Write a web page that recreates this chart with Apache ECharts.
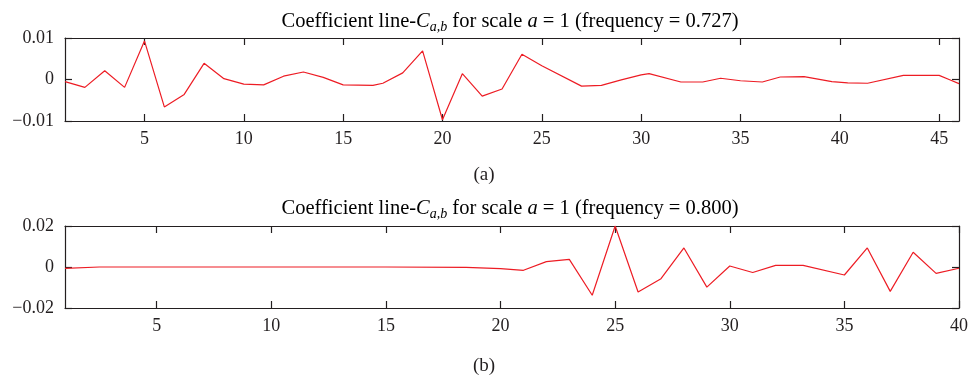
<!DOCTYPE html>
<html>
<head>
<meta charset="utf-8">
<script src="https://cdn.jsdelivr.net/npm/echarts@6/dist/echarts.min.js"></script>
<style>
  html, body { margin: 0; padding: 0; background: #fff; }
  #chart { width: 972px; height: 379px; }
</style>
</head>
<body>
<div id="chart"></div>
<script>
// Wavelet coefficient line, frequency 0.727 (panel a)
const topX = [1, 2, 3, 4, 5, 6, 7, 8, 9, 10, 11, 12, 13, 14, 15, 16.5, 17, 18, 19, 20,
  21, 22, 23, 24, 25, 27, 28, 29, 30, 30.4, 32, 33.1, 34, 35, 36.1, 37, 38.2, 39.6,
  40.4, 41.4, 43.2, 45, 45.5, 46];
const topY = [-0.0005, -0.0019, 0.0021, -0.0019, 0.0093, -0.0066, -0.0036, 0.0039, 0.0002, -0.0011,
  -0.0013, 0.0008, 0.0018, 0.0005, -0.0013, -0.0014, -0.0009, 0.0016, 0.0069, -0.0097,
  0.0014, -0.0040, -0.0023, 0.0061, 0.0033, -0.0016, -0.0014, -0.0001, 0.0011, 0.0014,
  -0.0006, -0.0006, 0.0003, -0.0003, -0.0006, 0.0006, 0.0007, -0.0005,
  -0.0008, -0.0009, 0.0010, 0.0010, 0.0000, -0.0010];

// Wavelet coefficient line, frequency 0.800 (panel b)
const bottomX = [1, 2.5, 5, 10, 15, 18.5, 20, 21, 22, 23, 24, 25, 26, 27, 28, 29, 30,
  31, 32, 33.2, 35, 36, 37, 38, 39, 40];
const bottomY = [-0.0007, 0, 0, 0, 0, -0.0002, -0.0008, -0.0016, 0.0026, 0.0037, -0.0138, 0.0200,
  -0.0122, -0.0057, 0.0093, -0.0098, 0.0005, -0.0027, 0.0008, 0.0008, -0.0039, 0.0093,
  -0.0119, 0.0072, -0.0031, -0.0006];

// Tick positions and ranges
const topXTicks = [5, 10, 15, 20, 25, 30, 35, 40, 45];
const bottomXTicks = [5, 10, 15, 20, 25, 30, 35, 40];
const topXRange = [1, 46];
const bottomXRange = [1, 40];
const topYRange = [-0.01, 0.01];
const bottomYRange = [-0.02, 0.02];

const panelTitles = ['0.727', '0.800'];
const panelTags = ['(a)', '(b)'];

const FONT = '"Liberation Serif", "DejaVu Serif", serif';
const INK = '#231f20';
const RED = '#ed1c24';

function pairs(xs, ys) { return xs.map((x, i) => [x, ys[i]]); }
function yFmt(v) {
  if (Math.abs(v) < 1e-12) return '0';
  const s = String(+Math.abs(v).toFixed(4));
  return (v < 0 ? '\u2212' : '') + s;
}

const lineStyle = { color: INK, width: 1.2 };

function xAxes(gridIndex, range, ticks) {
  const base = {
    type: 'value', gridIndex, min: range[0], max: range[1],
    splitLine: { show: false },
    axisLine: { show: true, onZero: false, lineStyle },
    axisTick: { show: true, inside: true, length: 7, customValues: ticks, lineStyle }
  };
  return [
    Object.assign({}, base, {
      position: 'bottom',
      axisLabel: { show: true, customValues: ticks, margin: 9, color: INK,
        fontFamily: FONT, fontSize: 18 }
    }),
    Object.assign({}, base, { position: 'top', axisLabel: { show: false } })
  ];
}

function yAxes(gridIndex, range) {
  const base = {
    type: 'value', gridIndex, min: range[0], max: range[1], interval: range[1],
    splitLine: { show: false },
    axisLine: { show: true, onZero: false, lineStyle },
    axisTick: { show: true, inside: true, length: 7, lineStyle }
  };
  return [
    Object.assign({}, base, {
      position: 'left',
      axisLabel: { show: true, margin: 11, color: INK, fontFamily: FONT, fontSize: 18,
        formatter: yFmt }
    }),
    Object.assign({}, base, { position: 'right', axisLabel: { show: false } })
  ];
}

function titleText(freq) {
  return '{n|Coefficient line-}{i|C}{s|a,b}{n| for scale }{i|a}{n| = 1 (frequency = ' + freq + ')}';
}
const titleRich = {
  n: { fontFamily: FONT, fontSize: 20.5, color: INK, lineHeight: 23 },
  i: { fontFamily: FONT, fontSize: 20.5, color: INK, fontStyle: 'italic', lineHeight: 23 },
  s: { fontFamily: FONT, fontSize: 14, color: INK, fontStyle: 'italic', lineHeight: 14,
       padding: [11, 0, 0, 0] }
};

const chart = echarts.init(document.getElementById('chart'), null, { renderer: 'canvas' });
chart.setOption({
  animation: false,
  backgroundColor: '#fff',
  grid: [
    { left: 65, top: 38, width: 894, height: 83 },
    { left: 65, top: 226, width: 894, height: 82 }
  ],
  xAxis: [].concat(xAxes(0, topXRange, topXTicks), xAxes(1, bottomXRange, bottomXTicks)),
  yAxis: [].concat(yAxes(0, topYRange), yAxes(1, bottomYRange)),
  series: [
    { type: 'line', xAxisIndex: 0, yAxisIndex: 0, data: pairs(topX, topY),
      showSymbol: false, lineStyle: { color: RED, width: 1.2 }, clip: true },
    { type: 'line', xAxisIndex: 2, yAxisIndex: 2, data: pairs(bottomX, bottomY),
      showSymbol: false, lineStyle: { color: RED, width: 1.2 }, clip: true }
  ],
  graphic: [
    { type: 'text', x: 510, y: 22, style: { text: titleText(panelTitles[0]), rich: titleRich,
      align: 'center', verticalAlign: 'middle' } },
    { type: 'text', x: 510, y: 209, style: { text: titleText(panelTitles[1]), rich: titleRich,
      align: 'center', verticalAlign: 'middle' } },
    { type: 'text', x: 484, y: 175, style: { text: panelTags[0], fontFamily: FONT, fontSize: 19,
      fill: INK, align: 'center', verticalAlign: 'middle' } },
    { type: 'text', x: 484, y: 366, style: { text: panelTags[1], fontFamily: FONT, fontSize: 19,
      fill: INK, align: 'center', verticalAlign: 'middle' } }
  ]
});
</script>
</body>
</html>
